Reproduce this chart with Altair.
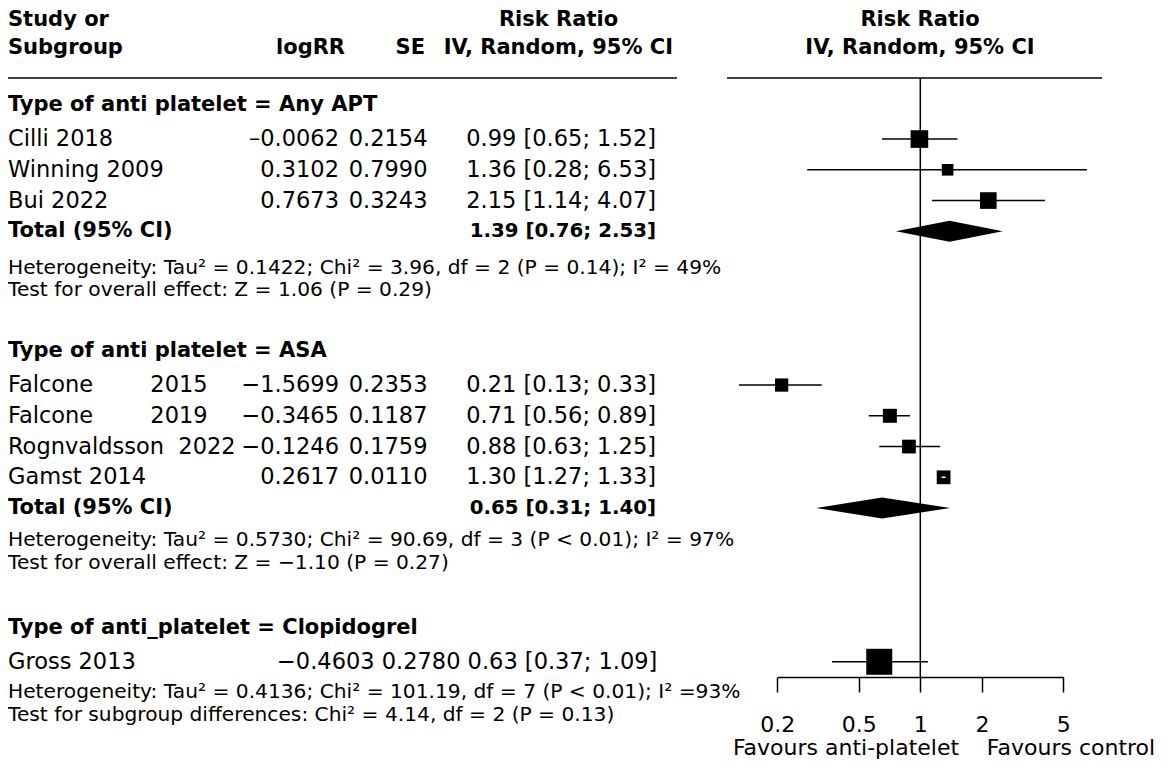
import math
import altair as alt
import pandas as pd

FONT = "DejaVu Sans"

# ---------------- data ----------------
studies = ["Cilli 2018", "Winning 2009", "Bui 2022",
           "Falcone" + "\u00a0" * 8 + "2015",
           "Falcone" + "\u00a0" * 8 + "2019",
           "Rognvaldsson" + "\u00a0" * 2 + "2022",
           "Gamst 2014", "Gross 2013"]
study_rows = [1, 2, 3, 9, 10, 11, 12, 18]
logrr_txt = ["–0.0062", "0.3102", "0.7673", "−1.5699", "−0.3465", "−0.1246", "0.2617", "−0.4603"]
se_txt = ["0.2154", "0.7990", "0.3243", "0.2353", "0.1187", "0.1759", "0.0110", "0.2780"]
rr = [0.99, 1.36, 2.15, 0.21, 0.71, 0.88, 1.30, 0.63]
rr_lo = [0.65, 0.28, 1.14, 0.13, 0.56, 0.63, 1.27, 0.37]
rr_hi = [1.52, 6.53, 4.07, 0.33, 0.89, 1.25, 1.33, 1.09]
weights = [46, 20, 41, 26, 29, 28, 28, 100]

group_titles = ["Type of anti platelet = Any APT",
                "Type of anti platelet = ASA",
                "Type of anti_platelet = Clopidogrel"]
group_rows = [-0.1, 7.9, 16.9]

pooled = [1.39, 0.65]
pooled_lo = [0.76, 0.31]
pooled_hi = [2.53, 1.40]
pooled_rows = [4, 13]

stats_lines = [
    "Heterogeneity: Tau² = 0.1422; Chi² = 3.96, df = 2 (P = 0.14); I² = 49%",
    "Test for overall effect: Z = 1.06 (P = 0.29)",
    "Heterogeneity: Tau² = 0.5730; Chi² = 90.69, df = 3 (P < 0.01); I² = 97%",
    "Test for overall effect: Z = −1.10 (P = 0.27)",
    "Heterogeneity: Tau² = 0.4136; Chi² = 101.19, df = 7 (P < 0.01); I² =93%",
    "Test for subgroup differences: Chi² = 4.14, df = 2 (P = 0.13)",
]
stats_rows = [5.18, 5.92, 14.04, 14.79, 18.98, 19.72]

axis_ticks = [0.2, 0.5, 1, 2, 5]
ref_value = [1]
label_left = "Favours anti-platelet"
label_right = "Favours control"

# ---------------- scales ----------------
X_RANGE = [769.3, 1055.3]
xscale = alt.Scale(type="log", domain=[0.2, 5], range=X_RANGE)
yscale = alt.Scale(domain=[0, 20], range=[100.3, 715.3], nice=False, zero=False)
xaxis = alt.Axis(values=axis_ticks, format="~g", offset=-85, tickSize=15, tickWidth=1.5,
                 domainWidth=1.5, domainColor="black", tickColor="black",
                 labelColor="black", labelFont=FONT, labelFontSize=22, labelPadding=22,
                 grid=False, title=None, labelFlush=False, labelOverlap=False)
Y = lambda f: alt.Y(f, scale=yscale, axis=None)

# ---------------- tables ----------------
ci_txt = [f"{a:.2f} [{b:.2f}; {c:.2f}]" for a, b, c in zip(rr, rr_lo, rr_hi)]
studies_df = pd.DataFrame({"study": studies, "r": study_rows, "logrr": logrr_txt,
                           "se": se_txt, "rr": rr, "lo": rr_lo, "hi": rr_hi,
                           "w": weights, "ci": ci_txt})
px_per_log = (X_RANGE[1] - X_RANGE[0]) / math.log10(5 / 0.2)
studies_df["inside"] = [
    math.log10(h / l) * px_per_log < math.sqrt(w * 6.76)
    for l, h, w in zip(rr_lo, rr_hi, weights)
]
sep_df = studies_df.iloc[:7]
gross_df = studies_df.iloc[7:].copy()
gross_df["combo"] = gross_df["logrr"] + " " + gross_df["se"] + " " + gross_df["ci"]

pool_df = pd.DataFrame({"r": pooled_rows,
                        "ci": [f"{a:.2f} [{b:.2f}; {c:.2f}]" for a, b, c in zip(pooled, pooled_lo, pooled_hi)],
                        "label": ["Total (95% CI)"] * len(pooled)})
H = 10.5 / 30.75
dia_rows = []
for g, (p, l, h, r) in enumerate(zip(pooled, pooled_lo, pooled_hi, pooled_rows)):
    dia_rows += [{"g": g, "x": l, "yt": r, "yb": r},
                 {"g": g, "x": p, "yt": r - H, "yb": r + H},
                 {"g": g, "x": h, "yt": r, "yb": r}]
dia_df = pd.DataFrame(dia_rows)

groups_df = pd.DataFrame({"text": group_titles, "r": group_rows})
stats_df = pd.DataFrame({"text": stats_lines, "r": stats_rows})
ref_df = pd.DataFrame({"ref": ref_value})


def txt(df, field, x, align, size, bold=False):
    return alt.Chart(df).mark_text(
        align=align, baseline="middle", font=FONT, fontSize=size,
        fontWeight="bold" if bold else "normal", color="black"
    ).encode(x=alt.value(x), y=Y("r:Q"), text=f"{field}:N")


def hdr(text, r, x, align):
    return txt(pd.DataFrame({"t": [text], "r": [r]}), "t", x, align, 21, True)


R1, R2 = -2.86, -1.95
layers = [
    # header rules
    alt.Chart(ref_df).mark_rule(color="black", strokeWidth=1.5).encode(
        x=alt.value(0), x2=alt.value(669), y=alt.value(70)),
    alt.Chart(ref_df).mark_rule(color="black", strokeWidth=1.5).encode(
        x=alt.value(719), x2=alt.value(1094), y=alt.value(70)),
    # reference line
    alt.Chart(ref_df).mark_rule(color="black", strokeWidth=1.5).encode(
        x=alt.X("ref:Q", scale=xscale, axis=xaxis), y=alt.value(70), y2=alt.value(669)),
    # CI lines
    alt.Chart(studies_df).mark_rule(color="black", strokeWidth=1.5).encode(
        x=alt.X("lo:Q", scale=xscale, axis=xaxis), x2="hi:Q", y=Y("r:Q")),
    # squares
    alt.Chart(studies_df).mark_square(color="black", opacity=1, filled=True).encode(
        x=alt.X("rr:Q", scale=xscale, axis=xaxis), y=Y("r:Q"),
        size=alt.Size("w:Q", scale=alt.Scale(domain=[0, 100], range=[0, 676]), legend=None)),
    # white CI inside small squares
    alt.Chart(studies_df).transform_filter("datum.inside").mark_rule(
        color="white", strokeWidth=1.5).encode(
        x=alt.X("lo:Q", scale=xscale, axis=xaxis), x2="hi:Q", y=Y("r:Q")),
    # diamonds
    alt.Chart(dia_df).mark_area(color="black", orient="vertical", opacity=1).encode(
        x=alt.X("x:Q", scale=xscale, axis=xaxis),
        y=alt.Y("yt:Q", scale=yscale, axis=None, stack=None), y2="yb:Q",
        detail="g:N"),
    # column headers
    hdr("Study or", R1, 0, "left"), hdr("Subgroup", R2, 0, "left"),
    hdr("logRR", R2, 337, "right"), hdr("SE", R2, 417, "right"),
    hdr("Risk Ratio", R1, 550.5, "center"), hdr("IV, Random, 95% CI", R2, 665, "right"),
    hdr("Risk Ratio", R1, 912, "center"), hdr("IV, Random, 95% CI", R2, 912, "center"),
    # group titles
    txt(groups_df, "text", 0, "left", 21, True),
    # study rows
    txt(studies_df, "study", 0, "left", 22.5),
    txt(sep_df, "logrr", 331, "right", 22.5),
    txt(sep_df, "se", 419.5, "right", 22.5),
    txt(sep_df, "ci", 648, "right", 22.5),
    txt(gross_df, "combo", 269, "left", 22.5),
    # totals
    txt(pool_df, "label", 0, "left", 21, True),
    txt(pool_df, "ci", 648, "right", 19.8, True),
    # stats
    txt(stats_df, "text", 0, "left", 20.2),
    # favours labels
    alt.Chart(ref_df).mark_text(font=FONT, fontSize=22, baseline="middle", align="center",
                                color="black").encode(
        x=alt.value(838), y=alt.value(740), text=alt.value(label_left)),
    alt.Chart(ref_df).mark_text(font=FONT, fontSize=22, baseline="middle", align="center",
                                color="black").encode(
        x=alt.value(1063), y=alt.value(740), text=alt.value(label_right)),
]

chart = alt.layer(*layers).properties(
    width=1154, height=754, padding=0,
    autosize=alt.AutoSizeParams(type="none"),
    background="white",
).configure_view(stroke=None)

chart.save("out.html", embed_options={"renderer": "svg", "actions": False})
